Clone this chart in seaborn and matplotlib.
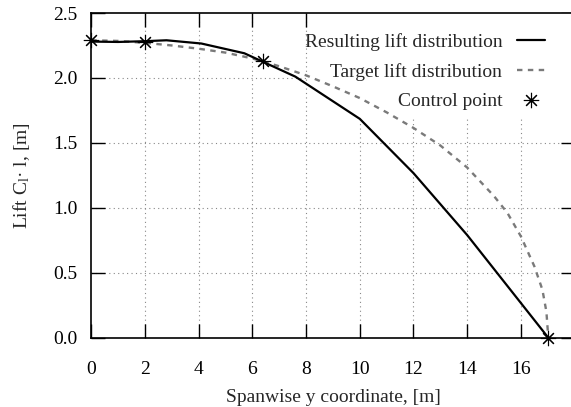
import matplotlib
matplotlib.use("Agg")
import matplotlib.pyplot as plt
import seaborn as sns
import pandas as pd
from matplotlib.lines import Line2D
from matplotlib.patches import Rectangle

# Data
result_x = [0.0, 1.0, 2.0, 2.8, 4.1, 5.7, 7.6, 10.0, 12.0, 14.0, 17.02]
result_y = [2.28, 2.277, 2.283, 2.29, 2.265, 2.19, 2.01, 1.685, 1.267, 0.79, 0.0]

target_x = [0.0, 1.0, 2.0, 3.0, 4.0, 5.0, 6.0, 7.0, 8.0, 9.0, 10.0, 11.0, 12.0,
            13.0, 14.0, 15.0, 15.5, 16.0, 16.5, 16.8, 16.95, 17.02]
target_y = [2.29, 2.285, 2.27, 2.25, 2.225, 2.195, 2.15, 2.09, 2.02, 1.935, 1.845,
            1.735, 1.615, 1.48, 1.31, 1.09, 0.96, 0.78, 0.55, 0.37, 0.2, 0.0]

ctrl_x = [0.0, 2.0, 6.4, 17.02]
ctrl_y = [2.29, 2.28, 2.13, 0.0]

x_ticks = [0, 2, 4, 6, 8, 10, 12, 14, 16]
y_ticks = [0.0, 0.5, 1.0, 1.5, 2.0, 2.5]

sns.set_theme(style="ticks")
plt.rcParams["font.family"] = ["Liberation Serif", "DejaVu Serif"]
plt.rcParams["mathtext.fontset"] = "custom"
plt.rcParams["mathtext.rm"] = "Liberation Serif"
plt.rcParams["mathtext.it"] = "Liberation Serif:italic"

FS = 14

fig = plt.figure(figsize=(5.71, 4.07), dpi=100)
ax = fig.add_axes([91.3 / 571, (407 - 337.7) / 407, (574.6 - 91.3) / 571, (337.7 - 13) / 407])

df_res = pd.DataFrame({"x": result_x, "y": result_y})
df_tgt = pd.DataFrame({"x": target_x, "y": target_y})
df_ctl = pd.DataFrame({"x": ctrl_x, "y": ctrl_y})

# dotted grid at the tick positions (drawn below the opaque key box)
grid_kw = dict(color="#888888", linestyle=(0, (1, 3)), linewidth=0.8, zorder=0.5)
for xv in x_ticks[1:]:
    ax.axvline(xv, **grid_kw)
for yv in y_ticks[1:-1]:
    ax.axhline(yv, **grid_kw)

# opaque key background (gnuplot style)
ax.add_patch(Rectangle((0.4485, 0.68), 0.56, 0.33, transform=ax.transAxes,
                       facecolor="white", edgecolor="none", zorder=1))

sns.lineplot(data=df_tgt, x="x", y="y", ax=ax, color="#7a7a7a", lw=1.7,
             linestyle=(0, (2.3, 2.3)), sort=False, zorder=3)
sns.lineplot(data=df_res, x="x", y="y", ax=ax, color="black", lw=1.6,
             sort=False, zorder=4)
ast = (8, 2, 0)
ax.plot(df_ctl["x"], df_ctl["y"], linestyle="none", marker=ast, markersize=11,
        markeredgewidth=0.8, color="black", zorder=5, clip_on=False)

ax.set_xlim(0, 18)
ax.set_ylim(0, 2.5)
ax.set_xticks(x_ticks)
ax.set_yticks(y_ticks)
ax.set_yticklabels([f"{v:.1f}" for v in y_ticks])
ax.set_xticklabels([str(v) for v in x_ticks])

ax.grid(False)
ax.tick_params(direction="in", length=10, width=1.0, top=True, right=True,
               labelsize=FS, colors="black")
ax.tick_params(axis="x", pad=17)
ax.tick_params(axis="y", pad=10)
for s in ax.spines.values():
    s.set_visible(True)
    s.set_color("black")
    s.set_linewidth(1.2)
    s.set_zorder(6)

ax.set_xlabel("Spanwise y coordinate, [m]", fontsize=FS, labelpad=8)
ax.set_ylabel("Lift C$_{\\mathrm{l}}$\u00b7 l, [m]", fontsize=FS, labelpad=15)

handles = [
    Line2D([], [], color="black", lw=1.6),
    Line2D([], [], color="#7a7a7a", lw=1.7, linestyle=(0, (2.3, 2.3))),
    Line2D([], [], linestyle="none", marker=ast, markersize=11,
           markeredgewidth=0.8, color="black"),
]
labels = ["Resulting lift distribution", "Target lift distribution", "Control point"]
leg = fig.legend(handles, labels, loc="upper right",
                 bbox_to_anchor=(545 / 571, (407 - 33) / 407),
                 markerfirst=False, frameon=False, fontsize=FS,
                 borderpad=0, borderaxespad=0, handlelength=1.45,
                 handletextpad=0.75, labelspacing=0.62)
for t in leg.get_texts():
    t.set_ha("right")
leg._legend_box.align = "right"

fig.savefig("out.png", dpi=100)
